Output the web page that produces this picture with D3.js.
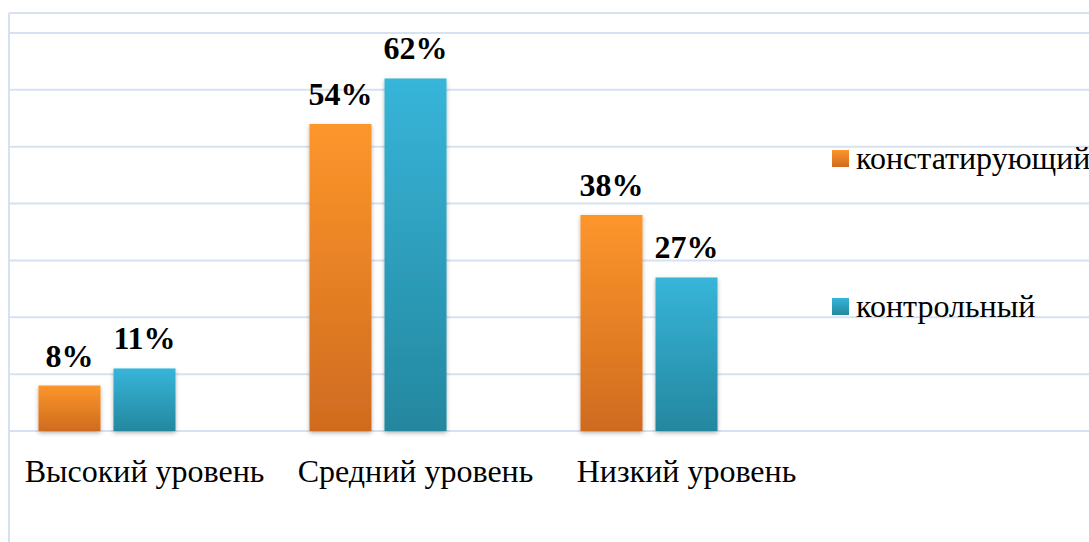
<!DOCTYPE html>
<html><head><meta charset="utf-8">
<script src="https://cdn.jsdelivr.net/npm/d3@7"></script>
<style>html,body{margin:0;padding:0;background:#fff;overflow:hidden}
text{font-family:"Liberation Serif","Times New Roman","DejaVu Serif",serif}</style>
</head><body>
<svg id="c" width="1089" height="542"></svg>
<script>
const categories = ["Высокий уровень", "Средний уровень", "Низкий уровень"];
const seriesNames = ["констатирующий", "контрольный"];
const konstat = [8, 54, 38];
const kontrol = [11, 62, 27];
const yTicks = [0, 10, 20, 30, 40, 50, 60, 70];

(function () {
const svg = d3.select("#c");
const W = 1089, H = 542;
const padL = 9, padT = 13, bandW = 271;
const y = d3.scaleLinear().domain([0, 70]).range([431, 33]);
const x0 = d3.scaleBand().domain(categories).range([padL, padL + bandW * 3]).padding(0);
const x1 = d3.scaleBand().domain([0, 1, 2]).range([0, x0.bandwidth()]).paddingInner(0.1733).paddingOuter(0.393);

const defs = svg.append("defs");
const grads = [["gO", "#fd962b", "#cf6b1f"], ["gB", "#37b5d9", "#24879f"]];
grads.forEach(([id, a, b]) => {
  const g = defs.append("linearGradient").attr("id", id).attr("x1", 0).attr("y1", 0).attr("x2", 0).attr("y2", 1);
  g.append("stop").attr("offset", "0%").attr("stop-color", a);
  g.append("stop").attr("offset", "100%").attr("stop-color", b);
});
const f = defs.append("filter").attr("id", "sh").attr("x", "-20%").attr("y", "-20%").attr("width", "140%").attr("height", "140%");
f.append("feDropShadow").attr("dx", 0).attr("dy", 2).attr("stdDeviation", 2).attr("flood-color", "#000").attr("flood-opacity", 0.3);

svg.append("g").selectAll("line").data(yTicks).join("line")
  .attr("x1", padL).attr("x2", W).attr("y1", d => y(d)).attr("y2", d => y(d))
  .attr("stroke", "#d6e2f1").attr("stroke-width", 2);
svg.append("line").attr("x1", padL).attr("x2", W).attr("y1", padT).attr("y2", padT).attr("stroke", "#d6e2f1").attr("stroke-width", 2);
svg.append("line").attr("x1", padL).attr("x2", padL).attr("y1", padT).attr("y2", H).attr("stroke", "#d6e2f1").attr("stroke-width", 2);

const data = [konstat, kontrol];
const fills = ["url(#gO)", "url(#gB)"];
data.forEach((vals, s) => {
  const g = svg.append("g");
  g.selectAll("rect").data(vals).join("rect")
    .attr("x", (d, i) => x0(categories[i]) + x1(s))
    .attr("y", d => y(d))
    .attr("width", x1.bandwidth())
    .attr("height", d => y(0) - y(d))
    .attr("fill", fills[s]).attr("filter", "url(#sh)");
  g.selectAll("text").data(vals).join("text")
    .attr("x", (d, i) => x0(categories[i]) + x1(s) + x1.bandwidth() / 2)
    .attr("y", d => y(d) - 19)
    .attr("text-anchor", "middle")
    .style("font-weight", "bold").style("font-size", "32px").attr("fill", "#000")
    .text(d => d + "%");
});

svg.append("g").selectAll("text").data(categories).join("text")
  .attr("x", d => x0(d) + x0.bandwidth() / 2).attr("y", 482)
  .attr("text-anchor", "middle")
  .style("font-size", "32px").attr("fill", "#000").text(d => d);

const leg = svg.append("g");
const legY = [150, 298];
seriesNames.forEach((n, i) => {
  leg.append("rect").attr("x", 832).attr("y", legY[i]).attr("width", 17).attr("height", 17).attr("fill", fills[i]);
  leg.append("text").attr("x", 856).attr("y", legY[i] + 19)
    .style("font-size", "32px").attr("fill", "#000").text(n);
});
})();
</script>
</body></html>
